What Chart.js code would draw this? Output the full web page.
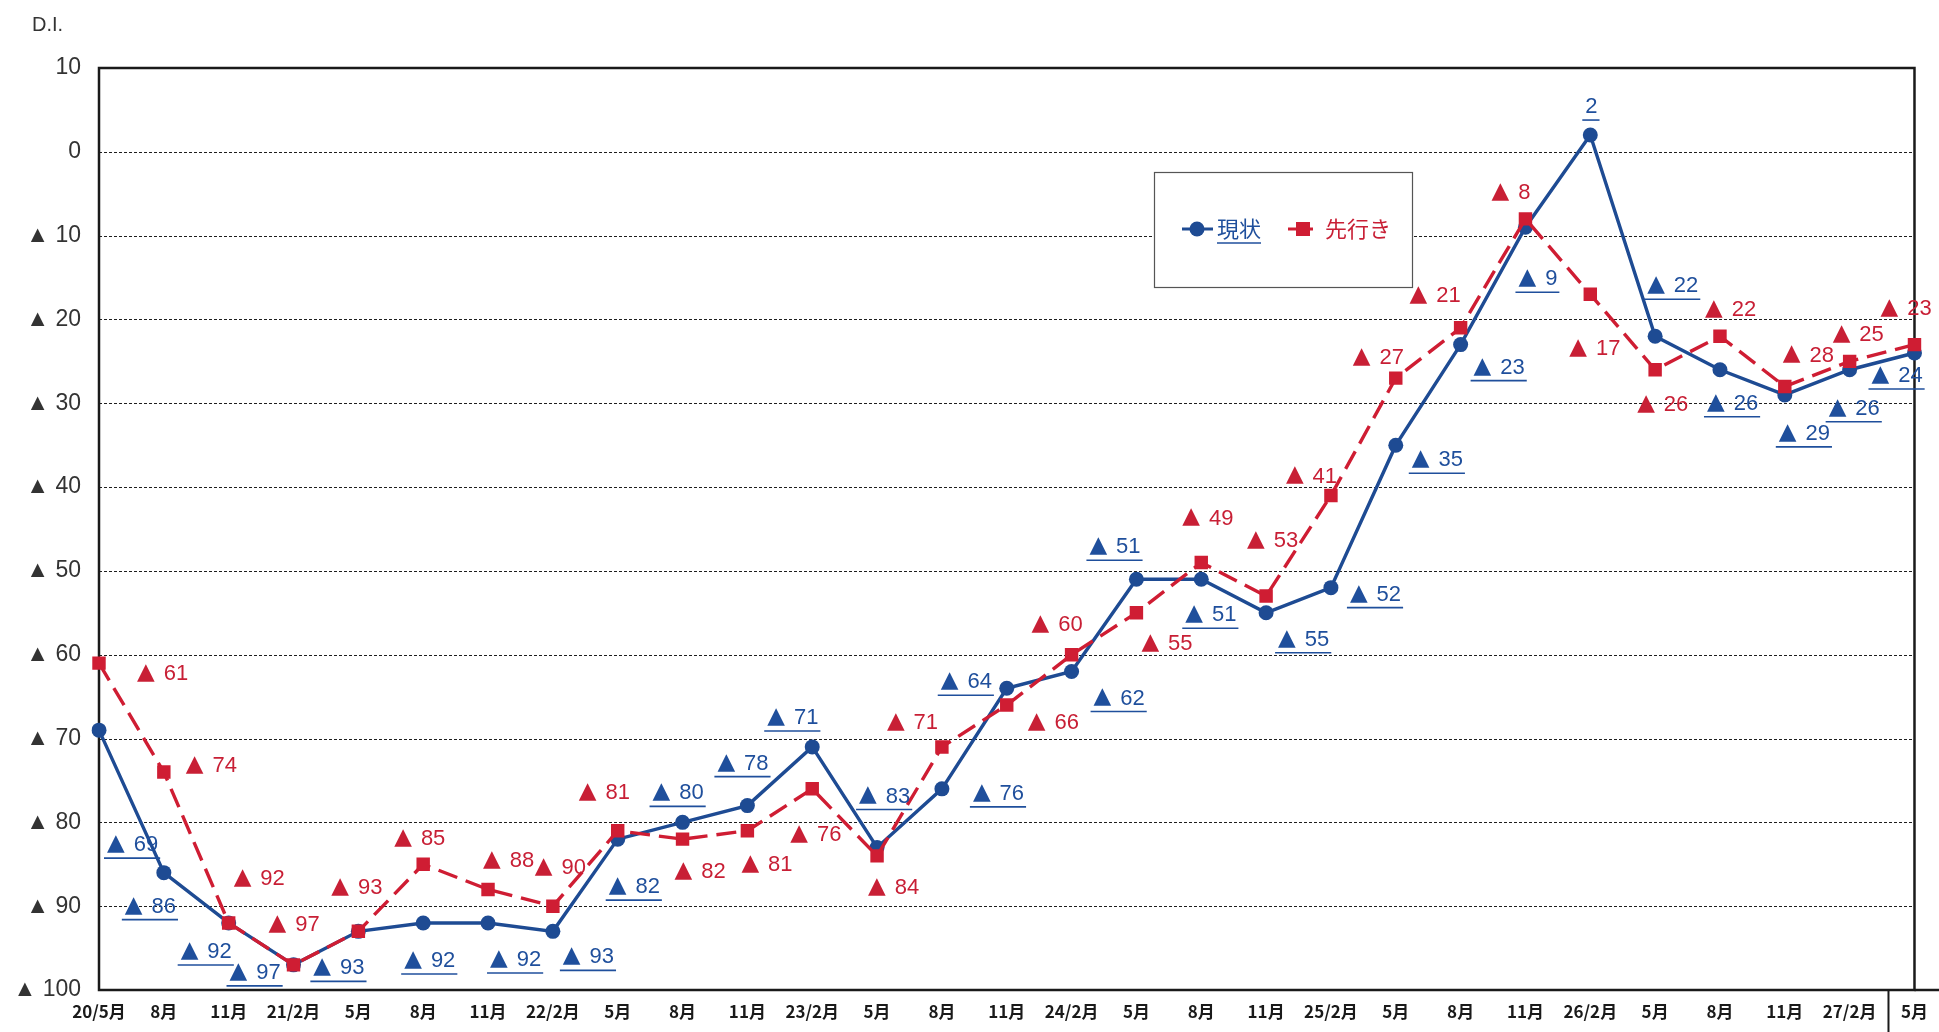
<!DOCTYPE html>
<html>
<head>
<meta charset="utf-8">
<script src="https://cdn.jsdelivr.net/npm/chart.js@4.4.1/dist/chart.umd.min.js"></script>
<style>
  html, body { margin: 0; padding: 0; background: #fff; overflow: hidden; }
  canvas { display: block; }
</style>
</head>
<body>
<canvas id="di" width="1939" height="1032"></canvas>
<script>
// Survey periods (year/month, Heisei)
const categories = ['20/5月','8月','11月','21/2月','5月','8月','11月','22/2月','5月','8月','11月','23/2月',
  '5月','8月','11月','24/2月','5月','8月','11月','25/2月','5月','8月','11月','26/2月','5月','8月','11月','27/2月','5月'];

// 現状 (current conditions) D.I.
const genjou = [-69,-86,-92,-97,-93,-92,-92,-93,-82,-80,-78,-71,-83,-76,-64,-62,-51,-51,-55,-52,-35,-23,-9,2,-22,-26,-29,-26,-24];

// 先行き (outlook) D.I.
const sakiyuki = [-61,-74,-92,-97,-93,-85,-88,-90,-81,-82,-81,-76,-84,-71,-66,-60,-55,-49,-53,-41,-27,-21,-8,-17,-26,-22,-28,-25,-23];

// Value axis range and step
const yMin = -100;
const yMax = 10;
const yStep = 10;

// Where each value label sits relative to its point (px)
const genjouLabelOffsets = [[8,114],[-39,33],[-48,28],[-64,7],[-45,36],[-19,37],[2,36],[10,25],[-9,47],[-30,-30],
  [-30,-43],[-45,-30],[-18,-52],[31,4],[-66,-7],[22,26],[-47,-33],[-16,35],[12,26],[19,6],
  [16,14],[13,22],[-7,51],[-5,-29],[-8,-51],[-13,33],[-6,38],[-21,38],[-43,22]];
const sakiyukiLabelOffsets = [[38,10],[22,-7],[5,-45],[-25,-41],[-27,-44],[-29,-26],[-5,-29],[-18,-39],[-39,-39],[-8,32],
  [-6,33],[-22,45],[-9,31],[-55,-25],[21,17],[-40,-31],[5,30],[-19,-45],[-19,-56],[-45,-20],
  [-43,-21],[-51,-33],[-34,-27],[-21,54],[-18,34],[-15,-27],[-2,-32],[-17,-27],[-34,-37]];

const BLUE = '#1e4b93';
const BLUE_TEXT = '#1f4f9c';
const RED = '#cf1d33';
const RED_TEXT = '#c81f35';

const TRI_FONT = '23px "DejaVu Sans", sans-serif';
const NUM_FONT = '22px "Liberation Sans", Arial, sans-serif';

// Japanese-style negative marker: ▲ in front of the magnitude
function diParts(v) {
  return v < 0 ? { tri: true, num: String(-v) } : { tri: false, num: String(v) };
}

function drawValueLabel(ctx, x, y, v, color, underline) {
  const p = diParts(v);
  ctx.save();
  ctx.fillStyle = color;
  ctx.textBaseline = 'middle';
  ctx.textAlign = 'left';
  let cx = x;
  if (p.tri) {
    ctx.font = TRI_FONT;
    ctx.fillText('▲', cx, y);
    cx += ctx.measureText('▲').width + 9;
  }
  ctx.font = NUM_FONT;
  ctx.fillText(p.num, cx, y + 1);
  const end = cx + ctx.measureText(p.num).width;
  if (underline) {
    ctx.strokeStyle = color;
    ctx.lineWidth = 1.6;
    ctx.beginPath();
    ctx.moveTo(x - 3, y + 14);
    ctx.lineTo(end + 2, y + 14);
    ctx.stroke();
  }
  ctx.restore();
}

const framePlugin = {
  id: 'frame',
  beforeDatasetsDraw(chart) {
    const { ctx, chartArea: a, scales: { y } } = chart;
    ctx.save();
    // dashed horizontal grid
    ctx.strokeStyle = '#1e1e1e';
    ctx.lineWidth = 1;
    ctx.setLineDash([3, 2]);
    y.ticks.forEach(t => {
      if (t.value === yMin || t.value === yMax) return;
      const py = Math.round(y.getPixelForValue(t.value)) + 0.5;
      ctx.beginPath();
      ctx.moveTo(a.left, py);
      ctx.lineTo(a.right, py);
      ctx.stroke();
    });
    ctx.setLineDash([]);
    // plot frame
    ctx.strokeStyle = '#1a1a1a';
    ctx.lineWidth = 2.5;
    ctx.strokeRect(a.left, a.top, a.right - a.left, a.bottom - a.top);
    // axis line carried to the edge, and the box round the latest period
    ctx.beginPath();
    ctx.moveTo(a.right, a.bottom);
    ctx.lineTo(chart.width, a.bottom);
    ctx.stroke();
    const xs = chart.scales.x;
    const lastX = xs.getPixelForValue(categories.length - 1);
    ctx.lineWidth = 2;
    ctx.beginPath();
    ctx.moveTo(lastX - 26, a.bottom);
    ctx.lineTo(lastX - 26, chart.height);
    ctx.stroke();
    ctx.restore();
  },
  afterDatasetsDraw(chart) {
    const { ctx } = chart;
    // value labels
    const metaG = chart.getDatasetMeta(0);
    const metaS = chart.getDatasetMeta(1);
    metaS.data.forEach((pt, i) => {
      const o = sakiyukiLabelOffsets[i];
      drawValueLabel(ctx, pt.x + o[0], pt.y + o[1], sakiyuki[i], RED_TEXT, false);
    });
    metaG.data.forEach((pt, i) => {
      const o = genjouLabelOffsets[i];
      drawValueLabel(ctx, pt.x + o[0], pt.y + o[1], genjou[i], BLUE_TEXT, true);
    });

    // legend box
    ctx.save();
    const bx = 1154, by = 172, bw = 258, bh = 115;
    ctx.fillStyle = '#fff';
    ctx.fillRect(bx, by, bw, bh);
    ctx.strokeStyle = '#555';
    ctx.lineWidth = 1.2;
    ctx.strokeRect(bx + 0.5, by + 0.5, bw, bh);
    const ly = by + 57;
    // 現状
    ctx.strokeStyle = BLUE;
    ctx.lineWidth = 3;
    ctx.beginPath(); ctx.moveTo(1182, ly); ctx.lineTo(1213, ly); ctx.stroke();
    ctx.fillStyle = BLUE;
    ctx.beginPath(); ctx.arc(1197, ly, 7.5, 0, Math.PI * 2); ctx.fill();
    ctx.font = '22px "Noto Sans CJK JP", sans-serif';
    ctx.textBaseline = 'middle';
    ctx.fillStyle = BLUE_TEXT;
    ctx.fillText('現状', 1217, ly);
    const w1 = ctx.measureText('現状').width;
    ctx.strokeStyle = BLUE_TEXT;
    ctx.lineWidth = 1.5;
    ctx.beginPath(); ctx.moveTo(1217, ly + 14); ctx.lineTo(1217 + w1, ly + 14); ctx.stroke();
    // 先行き
    ctx.strokeStyle = RED;
    ctx.lineWidth = 3;
    ctx.beginPath(); ctx.moveTo(1288, ly); ctx.lineTo(1313, ly); ctx.stroke();
    ctx.fillStyle = RED;
    ctx.fillRect(1296, ly - 7, 14, 14);
    ctx.fillStyle = RED_TEXT;
    ctx.fillText('先行き', 1325, ly);

    // unit caption
    ctx.fillStyle = '#333';
    ctx.font = '20px "Liberation Sans", Arial, sans-serif';
    ctx.textBaseline = 'middle';
    ctx.fillText('D.I.', 32, 25);
    ctx.restore();
  }
};

new Chart(document.getElementById('di').getContext('2d'), {
  type: 'line',
  data: {
    labels: categories,
    datasets: [
      {
        label: '現状',
        data: genjou,
        borderColor: BLUE,
        backgroundColor: BLUE,
        borderWidth: 3.4,
        tension: 0,
        pointStyle: 'circle',
        pointRadius: 7.5,
        pointBorderWidth: 0,
        pointBackgroundColor: BLUE,
        order: 1
      },
      {
        label: '先行き',
        data: sakiyuki,
        borderColor: RED,
        backgroundColor: RED,
        borderWidth: 3.4,
        borderDash: [20, 9],
        tension: 0,
        pointStyle: 'rect',
        pointRadius: 9.5,
        pointBorderWidth: 0,
        pointBackgroundColor: RED,
        order: 0
      }
    ]
  },
  options: {
    responsive: false,
    animation: false,
    devicePixelRatio: 1,
    layout: { padding: { top: 68, right: 19, left: 0, bottom: 0 } },
    plugins: { legend: { display: false }, tooltip: { enabled: false } },
    scales: {
      x: {
        offset: false,
        grid: { display: false, drawTicks: false },
        border: { display: false },
        ticks: {
          autoSkip: false,
          maxRotation: 0,
          padding: 11,
          color: '#1a1a1a',
          font: { family: '"Noto Sans CJK JP", sans-serif', size: 17, weight: 'bold' }
        },
        afterFit(s) { s.height = 42; }
      },
      y: {
        min: yMin,
        max: yMax,
        grid: { display: false, drawTicks: false },
        border: { display: false },
        ticks: {
          stepSize: yStep,
          padding: 18,
          color: '#333',
          font: { family: '"Liberation Sans", Arial, sans-serif', size: 23 },
          callback: v => (v < 0 ? '▲ ' + (-v) : String(v))
        },
        afterFit(s) { s.width = 99; }
      }
    }
  },
  plugins: [framePlugin]
});
</script>
</body>
</html>
